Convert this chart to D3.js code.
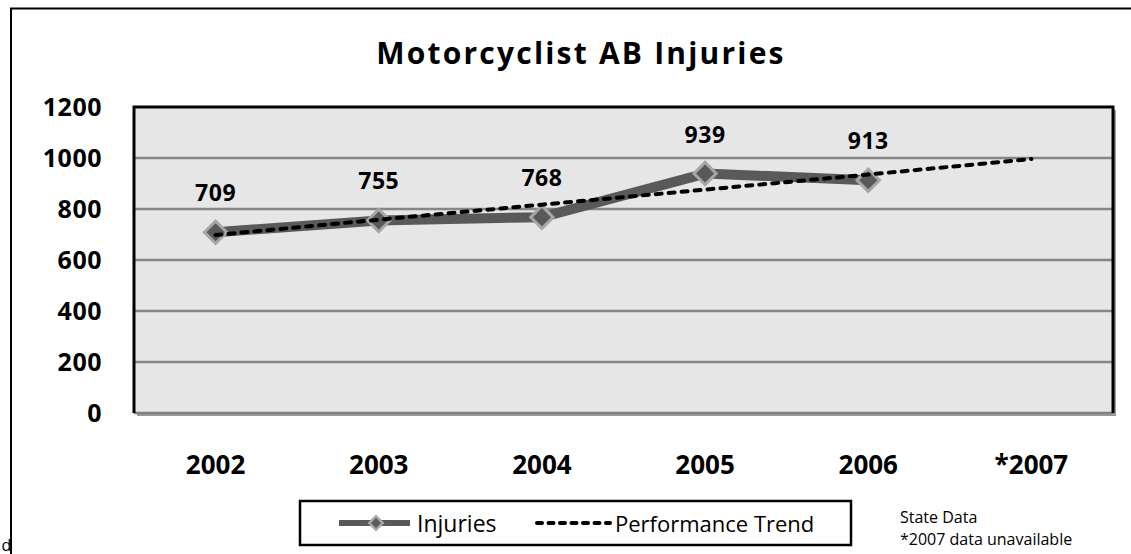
<!DOCTYPE html>
<html>
<head>
<meta charset="utf-8">
<script src="https://cdn.jsdelivr.net/npm/d3@7"></script>
<style>
  body { margin: 0; background: #ffffff; }
  svg { display: block; }
</style>
</head>
<body>
<div id="my_dataviz"></div>
<script>
// chart values
var years = ["2002", "2003", "2004", "2005", "2006", "*2007"];
var injuries = [709, 755, 768, 939, 913];          // no 2007 value
var trend = [698, 758, 817, 876, 935, 996];
var yTicks = [0, 200, 400, 600, 800, 1000, 1200];
var seriesNames = ["Injuries", "Performance Trend"];
var notes = ["State Data", "*2007 data unavailable"];

function draw_injuries_chart() {

    var width = 1131, height = 554;
    var font = "'Open Sans', 'DejaVu Sans', sans-serif";

    var svg = d3.select("#my_dataviz").append("svg")
        .attr("width", width)
        .attr("height", height)
        .style("background-color", "white");

    var plot = {left: 134, top: 107, right: 1113, bottom: 413};

    var x = d3.scaleBand()
        .domain(years)
        .range([plot.left, plot.right]);

    var y = d3.scaleLinear()
        .domain([0, 1200])
        .range([plot.bottom, plot.top]);

    var cx = function(i) { return x(years[i]) + x.bandwidth() / 2; };

    // outer frame (right side runs off the page)
    svg.append("path")
        .attr("d", "M11," + (height + 5) + "V8.5H" + (width + 5))
        .attr("fill", "none")
        .attr("stroke", "#000")
        .attr("stroke-width", 2);

    // stray letter at the bottom left corner
    svg.append("text")
        .attr("x", 1.5)
        .attr("y", 551)
        .style("font-family", font)
        .style("font-size", "16px")
        .text("d");

    // title
    svg.append("text")
        .attr("x", 581)
        .attr("y", 64)
        .style("text-anchor", "middle")
        .style("font-family", font)
        .style("font-weight", "bold")
        .style("font-size", "30px")
        .style("letter-spacing", "2.2px")
        .text("Motorcyclist AB Injuries");

    // plot area with its shadow
    svg.append("rect")
        .attr("x", plot.left + 3)
        .attr("y", plot.top + 3)
        .attr("width", plot.right - plot.left)
        .attr("height", plot.bottom - plot.top)
        .attr("fill", "#9a9a9a");

    svg.append("rect")
        .attr("x", plot.left)
        .attr("y", plot.top)
        .attr("width", plot.right - plot.left)
        .attr("height", plot.bottom - plot.top)
        .attr("fill", "#e6e6e6");

    // gridlines
    svg.append("g")
        .attr("class", "grid")
        .selectAll("line")
        .data(yTicks.filter(function(d) { return d > 0 && d < 1200; }))
        .enter()
        .append("line")
        .attr("x1", plot.left)
        .attr("x2", plot.right)
        .attr("y1", function(d) { return y(d); })
        .attr("y2", function(d) { return y(d); })
        .attr("stroke", "#868686")
        .attr("stroke-width", 2.5);

    // bottom axis line
    svg.append("line")
        .attr("x1", plot.left)
        .attr("x2", plot.right)
        .attr("y1", plot.bottom)
        .attr("y2", plot.bottom)
        .attr("stroke", "#808080")
        .attr("stroke-width", 2.5);

    // black border on left, top, right
    svg.append("path")
        .attr("d", "M" + plot.left + "," + plot.bottom + "V" + plot.top + "H" + plot.right + "V" + plot.bottom)
        .attr("fill", "none")
        .attr("stroke", "#000")
        .attr("stroke-width", 3);

    // y axis labels
    var yAxis = d3.axisLeft(y)
        .tickValues(yTicks)
        .tickFormat(d3.format("d"))
        .tickSize(0)
        .tickPadding(32);
    var yg = svg.append("g")
        .attr("transform", "translate(" + plot.left + ",0)")
        .call(yAxis);
    yg.select(".domain").remove();
    yg.selectAll("text")
        .style("font-family", font)
        .style("font-weight", "bold")
        .style("font-size", "25px")
        .style("letter-spacing", "0.5px")
        .style("fill", "#000");

    // x axis labels
    var xAxis = d3.axisBottom(x).tickSize(0).tickPadding(43);
    var xg = svg.append("g")
        .attr("transform", "translate(0," + plot.bottom + ")")
        .call(xAxis);
    xg.select(".domain").remove();
    xg.selectAll("text")
        .style("font-family", font)
        .style("font-weight", "bold")
        .style("font-size", "26px")
        .style("fill", "#000");

    // injuries line
    var line = d3.line()
        .x(function(d, i) { return cx(i); })
        .y(function(d) { return y(d); });

    svg.append("path")
        .datum(injuries)
        .attr("d", line)
        .attr("fill", "none")
        .attr("stroke", "#595959")
        .attr("stroke-width", 10)
        .attr("stroke-linejoin", "round");

    var diamond = d3.symbol().type(d3.symbolSquare).size(250);

    svg.append("g")
        .attr("class", "markers")
        .selectAll("path")
        .data(injuries)
        .enter()
        .append("path")
        .attr("d", diamond)
        .attr("transform", function(d, i) {
            return "translate(" + cx(i) + "," + y(d) + ") rotate(45)";
        })
        .attr("fill", "#595959")
        .attr("stroke", "#a6a6a6")
        .attr("stroke-width", 3);

    // performance trend
    svg.append("path")
        .datum(trend)
        .attr("d", line)
        .attr("fill", "none")
        .attr("stroke", "#000")
        .attr("stroke-width", 4)
        .attr("stroke-linecap", "round")
        .attr("stroke-dasharray", "6,7");

    // data labels
    svg.append("g")
        .attr("class", "labels")
        .selectAll("text")
        .data(injuries)
        .enter()
        .append("text")
        .attr("x", function(d, i) { return cx(i); })
        .attr("y", function(d) { return y(d) - 31; })
        .style("text-anchor", "middle")
        .style("font-family", font)
        .style("font-weight", "bold")
        .style("font-size", "23px")
        .style("letter-spacing", "0.5px")
        .text(function(d) { return d; });

    // legend
    var legend = svg.append("g").attr("class", "legend");
    legend.append("rect")
        .attr("x", 300)
        .attr("y", 501)
        .attr("width", 551)
        .attr("height", 44)
        .attr("fill", "#fff")
        .attr("stroke", "#000")
        .attr("stroke-width", 2.5);

    legend.append("line")
        .attr("x1", 339).attr("x2", 410)
        .attr("y1", 523).attr("y2", 523)
        .attr("stroke", "#595959")
        .attr("stroke-width", 6);
    legend.append("path")
        .attr("d", d3.symbol().type(d3.symbolSquare).size(90))
        .attr("transform", "translate(376,523) rotate(45)")
        .attr("fill", "#595959")
        .attr("stroke", "#a6a6a6")
        .attr("stroke-width", 2.5);
    legend.append("text")
        .attr("x", 417).attr("y", 532)
        .style("font-family", font)
        .style("font-size", "23px")
        .text(seriesNames[0]);

    legend.append("line")
        .attr("x1", 537).attr("x2", 610)
        .attr("y1", 523).attr("y2", 523)
        .attr("stroke", "#000")
        .attr("stroke-width", 4)
        .attr("stroke-linecap", "round")
        .attr("stroke-dasharray", "5,6.5");
    legend.append("text")
        .attr("x", 615).attr("y", 532)
        .style("font-family", font)
        .style("font-size", "22px")
        .text(seriesNames[1]);

    // notes
    svg.append("g")
        .attr("class", "notes")
        .selectAll("text")
        .data(notes)
        .enter()
        .append("text")
        .attr("x", 900)
        .attr("y", function(d, i) { return 523 + i * 22; })
        .style("font-family", font)
        .style("font-size", "16px")
        .text(function(d) { return d; });
}

draw_injuries_chart();
</script>
</body>
</html>
